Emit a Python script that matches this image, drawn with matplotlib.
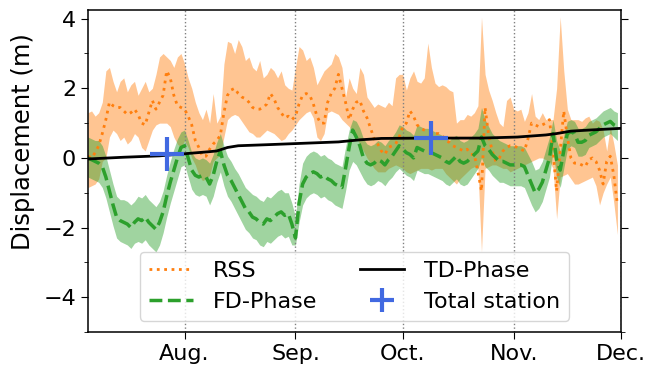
import numpy as np
import matplotlib
matplotlib.use("Agg")
import matplotlib.pyplot as plt
from matplotlib.ticker import MultipleLocator

plt.rcParams.update({
    "font.family": "DejaVu Sans",
    "font.size": 16,
    "axes.linewidth": 1.1,
})

# daily samples, 5 Jul -> 30 Nov
days = np.arange("2019-07-05", "2019-12-01", dtype="datetime64[D]")

# RSS estimate (smoothed) and its spread
rss = [0.05, 0.0, 0.15, 0.35, 0.7, 1.1, 1.6, 1.5, 1.45, 1.45,
       1.35, 1.25, 1.3, 1.4, 1.25, 1.0, 0.95, 1.3, 1.65, 1.4,
       1.6, 1.8, 2.5, 2.3, 1.8, 1.5, 1.45, 1.4, 1.2, 0.95,
       0.5, 0.3, 0.05, 0.05, 0.25, 0.4, 0.5, 0.65, 1.3, 1.8,
       1.95, 2.0, 1.85, 1.75, 1.7, 1.6, 1.45, 1.4, 1.4, 1.45,
       1.55, 1.85, 1.7, 1.45, 1.3, 1.15, 1.2, 1.1, 1.2, 1.55,
       1.8, 1.85, 1.8, 1.55, 1.2, 1.0, 1.0, 1.6, 1.85, 2.0,
       2.4, 2.0, 1.6, 1.1, 1.4, 1.6, 1.65, 1.35, 1.15, 0.85,
       0.55, 0.4, 0.2, 0.1, 0.3, 0.35, 0.4, 0.6, 0.9, 1.0,
       1.35, 1.2, 0.95, 0.85, 0.8, 0.75, 0.75, 0.7, 0.7, 0.65,
       0.5, 0.45, 0.35, 0.3, 0.25, 0.2, 0.25, 0.1, 0.1, -0.4,
       -0.95, 1.45, 0.65, 0.2, -0.1, 0.0, 0.2, 0.3, 0.35, 0.35,
       0.3, 0.25, 0.2, 0.55, 1.0, 0.95, 0.9, 0.95, 1.0, 1.1,
       0.2, -0.95, 0.2, 1.35, 0.6, 0.0, -0.15, -0.15, -0.2, -0.25,
       -0.05, 0.0, -0.1, -0.35, -0.75, -0.1, 0.05, -0.5, -1.35]
rss_hi = [1.3, 1.35, 1.2, 1.3, 1.6, 2.5, 2.6, 2.2, 1.9, 2.2,
          2.3, 1.9, 2.1, 2.2, 1.8, 2.0, 2.2, 1.9, 2.0, 2.4,
          2.9, 3.0, 2.9, 2.8, 2.6, 2.9, 3.0, 2.7, 2.3, 2.0,
          1.6, 1.3, 1.1, 1.4, 1.0, 1.85, 1.0, 1.2, 2.7, 3.35,
          3.3, 3.0, 3.4, 3.2, 2.8, 2.9, 2.6, 2.5, 2.8, 2.3,
          2.4, 2.6, 2.5, 2.3, 2.5, 2.1, 2.0, 1.95, 2.6, 3.2,
          3.1, 2.8, 2.9, 2.6, 2.1, 2.3, 2.5, 2.6, 2.7, 3.0,
          2.9, 2.6, 1.75, 2.3, 2.0, 1.85, 2.6, 2.4, 1.75, 1.6,
          1.45, 1.55, 1.5, 1.45, 1.6, 1.5, 2.3, 2.4, 2.4, 1.95,
          2.3, 2.5, 2.2, 2.15, 2.3, 3.3, 2.6, 2.15, 2.05, 2.1,
          2.05, 1.95, 1.9, 1.0, 1.1, 1.1, 1.25, 1.2, 1.3, 1.5,
          4.05, 2.4, 1.95, 1.65, 1.3, 1.0, 0.9, 1.65, 1.75, 1.4,
          1.35, 1.4, 1.05, 1.3, 1.85, 1.2, 1.1, 1.3, 1.1, 1.1,
          1.1, 2.0, 4.05, 2.5, 1.4, 1.1, 1.1, 1.1, 1.05, 1.15,
          1.2, 1.0, 1.1, 1.05, 0.8, 0.2, 0.9, 0.4, -0.2]
rss_lo = [-0.85, -0.8, -0.75, -0.6, -0.1, 0.0, 0.6, 0.8, 0.7, 0.5,
          0.6, 0.4, 0.5, 0.7, 0.6, 0.3, 0.2, 0.5, 0.8, 0.95,
          1.0, 1.0, 1.0, 0.9, 0.6, 0.4, 0.3, 0.5, 0.3, 0.0,
          -0.2, -0.5, -0.65, -0.6, -0.5, -0.1, 0.0, 0.1, 0.6, 1.1,
          1.2, 1.25, 1.2, 1.05, 0.9, 0.75, 0.7, 0.6, 0.6, 0.7,
          0.8, 0.75, 0.7, 0.6, 0.5, 0.55, 0.7, 0.8, 0.95, 1.1,
          1.2, 1.3, 1.35, 1.15, 0.6, 0.5, 0.7, 1.3, 1.35, 1.3,
          1.25, 1.1, 1.0, 0.9, 0.75, 0.6, 0.4, 0.2, 0.0, -0.15,
          -0.3, -0.4, -0.4, -0.4, -0.3, -0.25, -0.2, -0.25, -0.3, -0.4,
          -0.45, -0.4, -0.35, -0.3, -0.3, -0.3, -0.35, -0.3, -0.3, -0.3,
          -0.45, -0.55, -0.65, -0.75, -0.6, -0.5, -0.4, -0.3, -0.25, -0.3,
          -2.7, -0.3, -0.25, -0.2, -0.2, -0.25, -0.3, -0.3, -0.4, -0.35,
          -0.3, -0.25, -0.2, -0.15, -0.1, -0.05, 0.0, 0.0, -0.05, -0.1,
          -0.3, -1.75, -0.55, -0.5, -0.45, -0.6, -0.75, -0.75, -0.7, -0.65,
          -0.6, -0.55, -0.8, -1.35, -1.0, -0.75, -0.55, -1.3, -2.2]

# frequency-domain phase estimate and its spread
fd = [0.0, -0.05, -0.1, -0.15, -0.25, -0.55, -0.95, -1.35, -1.7, -1.8,
      -1.85, -1.9, -2.0, -1.85, -1.75, -1.8, -1.7, -1.85, -1.95, -2.05,
      -1.85, -1.55, -1.1, -0.7, -0.35, 0.0, 0.3, 0.35, 0.0, -0.35,
      -0.5, -0.55, -0.5, -0.55, -0.75, -0.5, -0.1, 0.2, -0.2, -0.5,
      -0.65, -0.85, -1.05, -1.25, -1.45, -1.55, -1.7, -1.75, -1.85, -1.9,
      -1.75, -1.8, -1.7, -1.6, -1.55, -1.65, -1.6, -1.9, -2.3, -1.3,
      -0.75, -0.55, -0.45, -0.4, -0.45, -0.55, -0.5, -0.6, -0.65, -0.75,
      -0.8, -0.85, -0.3, 0.3, 0.8, 0.6, 0.35, 0.0, -0.15, -0.2,
      -0.15, -0.05, -0.1, -0.2, -0.05, 0.05, 0.2, 0.35, 0.25, 0.15,
      0.1, 0.0, 0.3, 0.25, 0.2, 0.2, 0.15, 0.1, 0.05, 0.0,
      -0.1, -0.15, -0.05, 0.05, -0.1, -0.15, -0.1, 0.0, 0.1, 0.2,
      0.6, 0.35, 0.25, 0.1, 0.0, -0.1, -0.1, -0.15, -0.2, -0.2,
      -0.2, -0.2, -0.25, -0.5, -0.75, -1.0, -0.9, -0.7, -0.35, 0.0,
      0.7, -0.05, -0.35, 0.2, 0.7, 0.75, 0.7, 0.45, 0.45, 0.5,
      0.65, 0.7, 0.75, 0.85, 0.95, 1.0, 1.05, 0.95, 0.9]
fd_hi = [0.6, 0.55, 0.5, 0.5, 0.35, 0.05, -0.35, -0.75, -1.1, -1.2,
         -1.2, -1.25, -1.35, -1.25, -1.1, -1.15, -1.05, -1.2, -1.3, -1.4,
         -1.25, -0.95, -0.5, -0.1, 0.25, 0.55, 0.75, 0.8, 0.5, 0.15,
         0.0, -0.05, 0.0, -0.05, -0.15, 0.1, 0.45, 0.7, 0.35, 0.05,
         -0.1, -0.3, -0.45, -0.65, -0.85, -0.95, -1.05, -1.1, -1.2, -1.25,
         -1.1, -1.15, -1.05, -0.95, -0.9, -1.0, -1.0, -1.3, -1.7, -0.75,
         -0.15, 0.05, 0.15, 0.2, 0.15, 0.05, 0.1, 0.0, -0.05, -0.15,
         -0.2, -0.25, 0.3, 0.8, 1.1, 1.05, 0.85, 0.55, 0.4, 0.35,
         0.4, 0.5, 0.45, 0.35, 0.5, 0.6, 0.75, 0.95, 0.9, 0.8,
         0.75, 0.65, 0.95, 0.9, 0.85, 0.85, 0.8, 0.75, 0.7, 0.65,
         0.55, 0.5, 0.6, 0.65, 0.5, 0.45, 0.5, 0.6, 0.7, 0.85,
         1.45, 1.1, 0.9, 0.7, 0.6, 0.5, 0.45, 0.4, 0.35, 0.35,
         0.35, 0.35, 0.3, 0.1, -0.1, -0.35, -0.3, -0.1, 0.25, 0.6,
         1.1, 0.5, 0.2, 0.65, 1.05, 1.1, 1.05, 0.85, 0.85, 0.9,
         1.05, 1.1, 1.15, 1.25, 1.35, 1.4, 1.45, 1.35, 1.3]
fd_lo = [-0.55, -0.6, -0.65, -0.7, -0.85, -1.15, -1.55, -1.95, -2.3, -2.4,
         -2.45, -2.5, -2.6, -2.45, -2.4, -2.45, -2.35, -2.5, -2.6, -2.7,
         -2.5, -2.15, -1.7, -1.3, -0.95, -0.6, -0.25, -0.2, -0.55, -0.9,
         -1.05, -1.1, -1.05, -1.1, -1.35, -1.1, -0.7, -0.4, -0.8, -1.1,
         -1.25, -1.45, -1.65, -1.85, -2.05, -2.15, -2.3, -2.35, -2.5, -2.55,
         -2.4, -2.45, -2.35, -2.25, -2.2, -2.3, -2.25, -2.5, -2.5, -1.85,
         -1.35, -1.15, -1.05, -1.0, -1.05, -1.15, -1.1, -1.2, -1.25, -1.35,
         -1.4, -1.45, -0.95, -0.35, -0.1, -0.2, -0.4, -0.6, -0.75, -0.8,
         -0.75, -0.65, -0.7, -0.8, -0.65, -0.55, -0.4, -0.3, -0.4, -0.5,
         -0.55, -0.65, -0.35, -0.4, -0.45, -0.45, -0.5, -0.55, -0.6, -0.65,
         -0.75, -0.8, -0.7, -0.6, -0.75, -0.8, -0.75, -0.6, -0.45, -0.3,
         0.0, -0.25, -0.35, -0.5, -0.6, -0.7, -0.7, -0.75, -0.8, -0.8,
         -0.8, -0.8, -0.85, -1.1, -1.35, -1.55, -1.45, -1.25, -0.9, -0.55,
         0.2, -0.55, -0.85, -0.3, 0.25, 0.35, 0.3, 0.05, 0.05, 0.1,
         0.3, 0.35, 0.4, 0.5, 0.6, 0.65, 0.7, 0.6, 0.5]

# time-domain phase estimate
td_dates = np.array(["2019-07-05", "2019-07-15", "2019-07-25", "2019-08-01",
                     "2019-08-08", "2019-08-10", "2019-08-13", "2019-08-16",
                     "2019-08-24", "2019-09-03", "2019-09-13", "2019-09-19",
                     "2019-09-25", "2019-10-08", "2019-10-23", "2019-11-02",
                     "2019-11-10", "2019-11-13", "2019-11-17", "2019-11-22",
                     "2019-12-01"], dtype="datetime64[D]")
td = [-0.03, 0.02, 0.06, 0.12, 0.18, 0.2, 0.3, 0.35, 0.38, 0.42, 0.46,
      0.52, 0.56, 0.57, 0.57, 0.6, 0.66, 0.7, 0.77, 0.8, 0.85]

# total station surveys
ts_dates = np.array(["2019-07-27", "2019-10-09"], dtype="datetime64[D]")
ts = [0.12, 0.58]

month_ticks = np.array(["2019-08-01", "2019-09-01", "2019-10-01",
                        "2019-11-01", "2019-12-01"], dtype="datetime64[D]")
month_labels = ["Aug.", "Sep.", "Oct.", "Nov.", "Dec."]

fig = plt.figure(figsize=(6.45, 3.67), dpi=100)
ax = fig.add_axes([0.1364, 0.0954, 0.8264, 0.8774])

ax.fill_between(days, rss_lo, rss_hi, color="tab:orange", alpha=0.45, lw=0)
ax.fill_between(days, fd_lo, fd_hi, color="tab:green", alpha=0.45, lw=0)
ax.plot(days, rss, ":", color="tab:orange", lw=2, label="RSS")
ax.plot(days, fd, "--", color="tab:green", lw=2.5, label="FD-Phase")
ax.plot(td_dates, td, "-", color="black", lw=2, label="TD-Phase")
ax.plot(ts_dates, ts, "+", color="royalblue", ms=24, mew=3,
        ls="none", label="Total station")

ax.set_xlim(np.datetime64("2019-07-05"), np.datetime64("2019-12-01"))
ax.set_ylim(-5, 4.25)
ax.set_xticks(month_ticks)
ax.set_xticklabels(month_labels)
ax.grid(axis="x", linestyle=":", color="gray", lw=1)
ax.set_yticks([-4, -2, 0, 2, 4])
ax.yaxis.set_minor_locator(MultipleLocator(1))
ax.tick_params(axis="y", which="both", right=True)
ax.tick_params(which="major", length=5)
ax.tick_params(which="minor", length=3)
ax.set_ylabel("Displacement (m)", fontsize=17.5)
ax.yaxis.set_label_coords(-0.1, 0.59)

ax.legend(loc="lower center", ncol=2, columnspacing=1.9, handlelength=2.0,
          handletextpad=0.9, labelspacing=0.5, markerscale=0.7,
          framealpha=0.8)

fig.savefig("out.png", dpi=100)
